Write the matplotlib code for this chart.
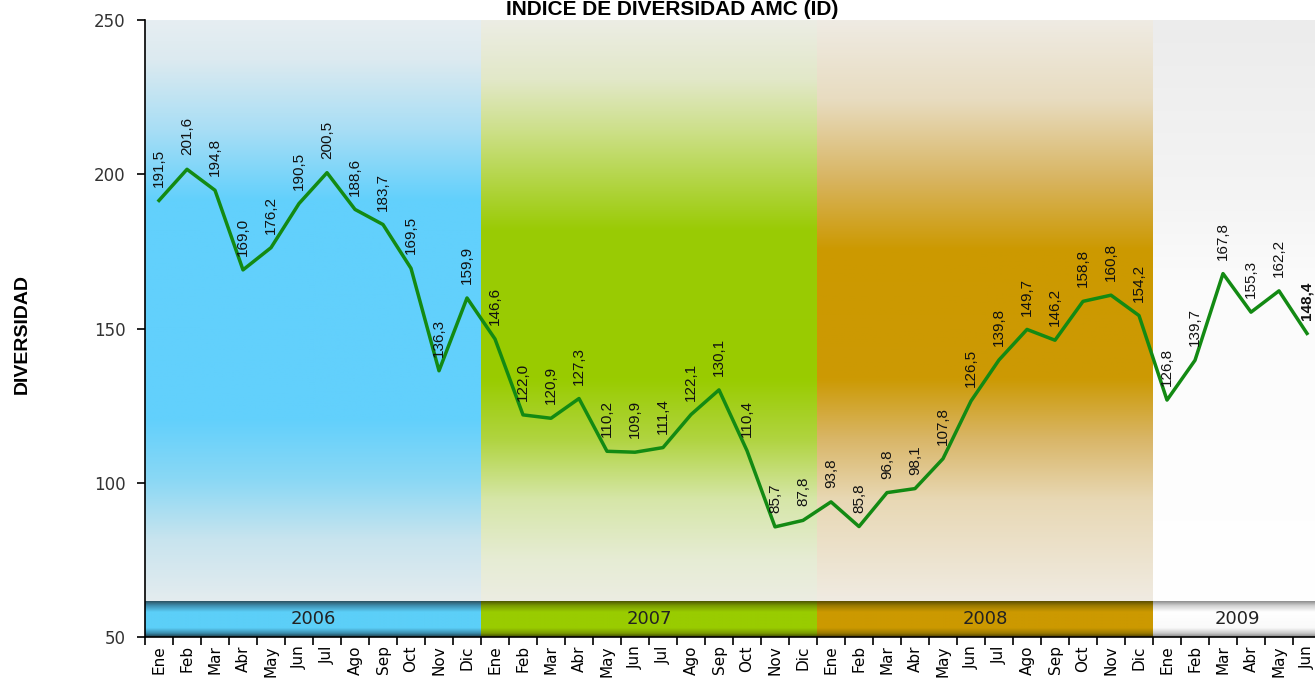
import numpy as np
import matplotlib
matplotlib.use("Agg")
from matplotlib import pyplot as plt
from matplotlib.colors import to_rgb

# data
years = ["2006", "2007", "2008", "2009"]
months = ["Ene", "Feb", "Mar", "Abr", "May", "Jun", "Jul", "Ago", "Sep", "Oct", "Nov", "Dic"]
vals_2006 = [191.5, 201.6, 194.8, 169.0, 176.2, 190.5, 200.5, 188.6, 183.7, 169.5, 136.3, 159.9]
vals_2007 = [146.6, 122.0, 120.9, 127.3, 110.2, 109.9, 111.4, 122.1, 130.1, 110.4, 85.7, 87.8]
vals_2008 = [93.8, 85.8, 96.8, 98.1, 107.8, 126.5, 139.8, 149.7, 146.2, 158.8, 160.8, 154.2]
vals_2009 = [126.8, 139.7, 167.8, 155.3, 162.2, 148.4]

values = vals_2006 + vals_2007 + vals_2008 + vals_2009
n_per_year = [len(vals_2006), len(vals_2007), len(vals_2008), len(vals_2009)]
tick_labels = [months[i % 12] for i in range(len(values))]

Y_MIN, Y_MAX, BAND_TOP = 50, 250, 61.5

# background stops: (pixel row from top of plot, colour)
bg_stops = [
    [(21, "#e6eef2"), (60, "#dceaf0"), (130, "#a8def5"), (200, "#62d0fc"), (420, "#62d0fc"),
     (480, "#8ad8f5"), (540, "#c8e4ee"), (602, "#e4ecef")],
    [(21, "#ecede4"), (80, "#e2e8c8"), (130, "#cde08a"), (230, "#9acb05"), (380, "#99cc00"),
     (440, "#b0d440"), (500, "#d6e6a8"), (560, "#e6ecd4"), (602, "#ecede2")],
    [(21, "#efebe3"), (100, "#e8dcc0"), (180, "#d8b460"), (250, "#cc9900"), (380, "#cc9a04"),
     (440, "#d9b668"), (500, "#e8d8b4"), (602, "#f0ebe2")],
    [(21, "#ececec"), (200, "#f4f4f4"), (280, "#fbfbfb"), (602, "#ffffff")],
]
band_stops = [
    [(0, "#2d5566"), (0.12, "#3f8fb0"), (0.3, "#5ccff8"), (0.75, "#5ccff8"), (0.9, "#3a8cac"), (1, "#1f3f4c")],
    [(0, "#4f5a00"), (0.12, "#7a9a00"), (0.3, "#99cc00"), (0.75, "#99cc00"), (0.9, "#7a9a00"), (1, "#3f4a00")],
    [(0, "#5f5000"), (0.12, "#9a7a00"), (0.3, "#cc9900"), (0.75, "#cc9900"), (0.9, "#9a7a00"), (1, "#4f4000")],
    [(0, "#909090"), (0.12, "#d0d0d0"), (0.3, "#ffffff"), (0.75, "#fafafa"), (0.9, "#c8c8c8"), (1, "#888888")],
]


def gradient(stops, n=300, scale=None):
    pos = np.array([s[0] for s in stops], dtype=float)
    if scale is not None:
        pos = (pos - scale[0]) / (scale[1] - scale[0])
    cols = np.array([to_rgb(s[1]) for s in stops])
    t = np.linspace(0, 1, n)
    img = np.stack([np.interp(t, pos, cols[:, c]) for c in range(3)], axis=1)
    return img[:, None, :]


fig = plt.figure(figsize=(13.15, 6.84), dpi=100)
ax = fig.add_axes([145 / 1315, 47 / 684, 1176 / 1315, 617 / 684])

x = np.arange(len(values))
start = 0
for i, n in enumerate(n_per_year):
    x0, x1 = start - 0.5, start + n - 0.5
    ax.imshow(gradient(bg_stops[i], scale=(21, 602)), extent=[x0, x1, BAND_TOP, Y_MAX],
              aspect="auto", origin="upper", zorder=0)
    ax.imshow(gradient(band_stops[i], n=60), extent=[x0, x1, Y_MIN, BAND_TOP],
              aspect="auto", origin="upper", zorder=1)
    ax.text((x0 + x1) / 2, (Y_MIN + BAND_TOP) / 2, years[i], ha="center", va="center",
            fontsize=13, color="#222222", family="DejaVu Sans", zorder=2)
    start += n

ax.plot(x, values, color="#138a13", lw=2.5, zorder=3)

for xi, v in zip(x, values):
    label = f"{v:.1f}".replace(".", ",")
    ax.annotate(label, (xi, v), xytext=(0, 10), textcoords="offset points",
                rotation=90, ha="center", va="bottom", fontsize=11,
                family="Liberation Sans", color="#111111",
                fontweight="bold" if xi == x[-1] else "normal", zorder=4)

ax.set_xlim(-0.5, len(values) - 0.5)
ax.set_ylim(Y_MIN, Y_MAX)
ax.set_yticks([50, 100, 150, 200, 250])
ax.tick_params(axis="y", labelsize=12, labelcolor="#333333", length=6, width=1.2, pad=8)
for t in ax.get_yticklabels():
    t.set_family("DejaVu Sans")

ax.set_xticks(np.arange(-0.5, len(values), 1.0))
ax.set_xticklabels([])
ax.set_xticks(x, minor=True)
ax.set_xticklabels(tick_labels, minor=True, rotation=90, fontsize=11, family="DejaVu Sans")
ax.tick_params(axis="x", which="major", length=6, width=1.2)
ax.tick_params(axis="x", which="minor", length=0, pad=6)

for side in ["top", "right"]:
    ax.spines[side].set_visible(False)
ax.spines["left"].set_linewidth(1.2)
ax.spines["bottom"].set_linewidth(1.2)

fig.text(672 / 1315, 1 - 15 / 684, "INDICE DE DIVERSIDAD AMC (ID)", ha="center", va="baseline",
         fontsize=15, fontweight="bold", family="Liberation Sans")
fig.text(22 / 1315, 350 / 684, "DIVERSIDAD", rotation=90, ha="center", va="center",
         fontsize=14, fontweight="bold", family="Liberation Sans")

fig.savefig("out.png", dpi=100)
